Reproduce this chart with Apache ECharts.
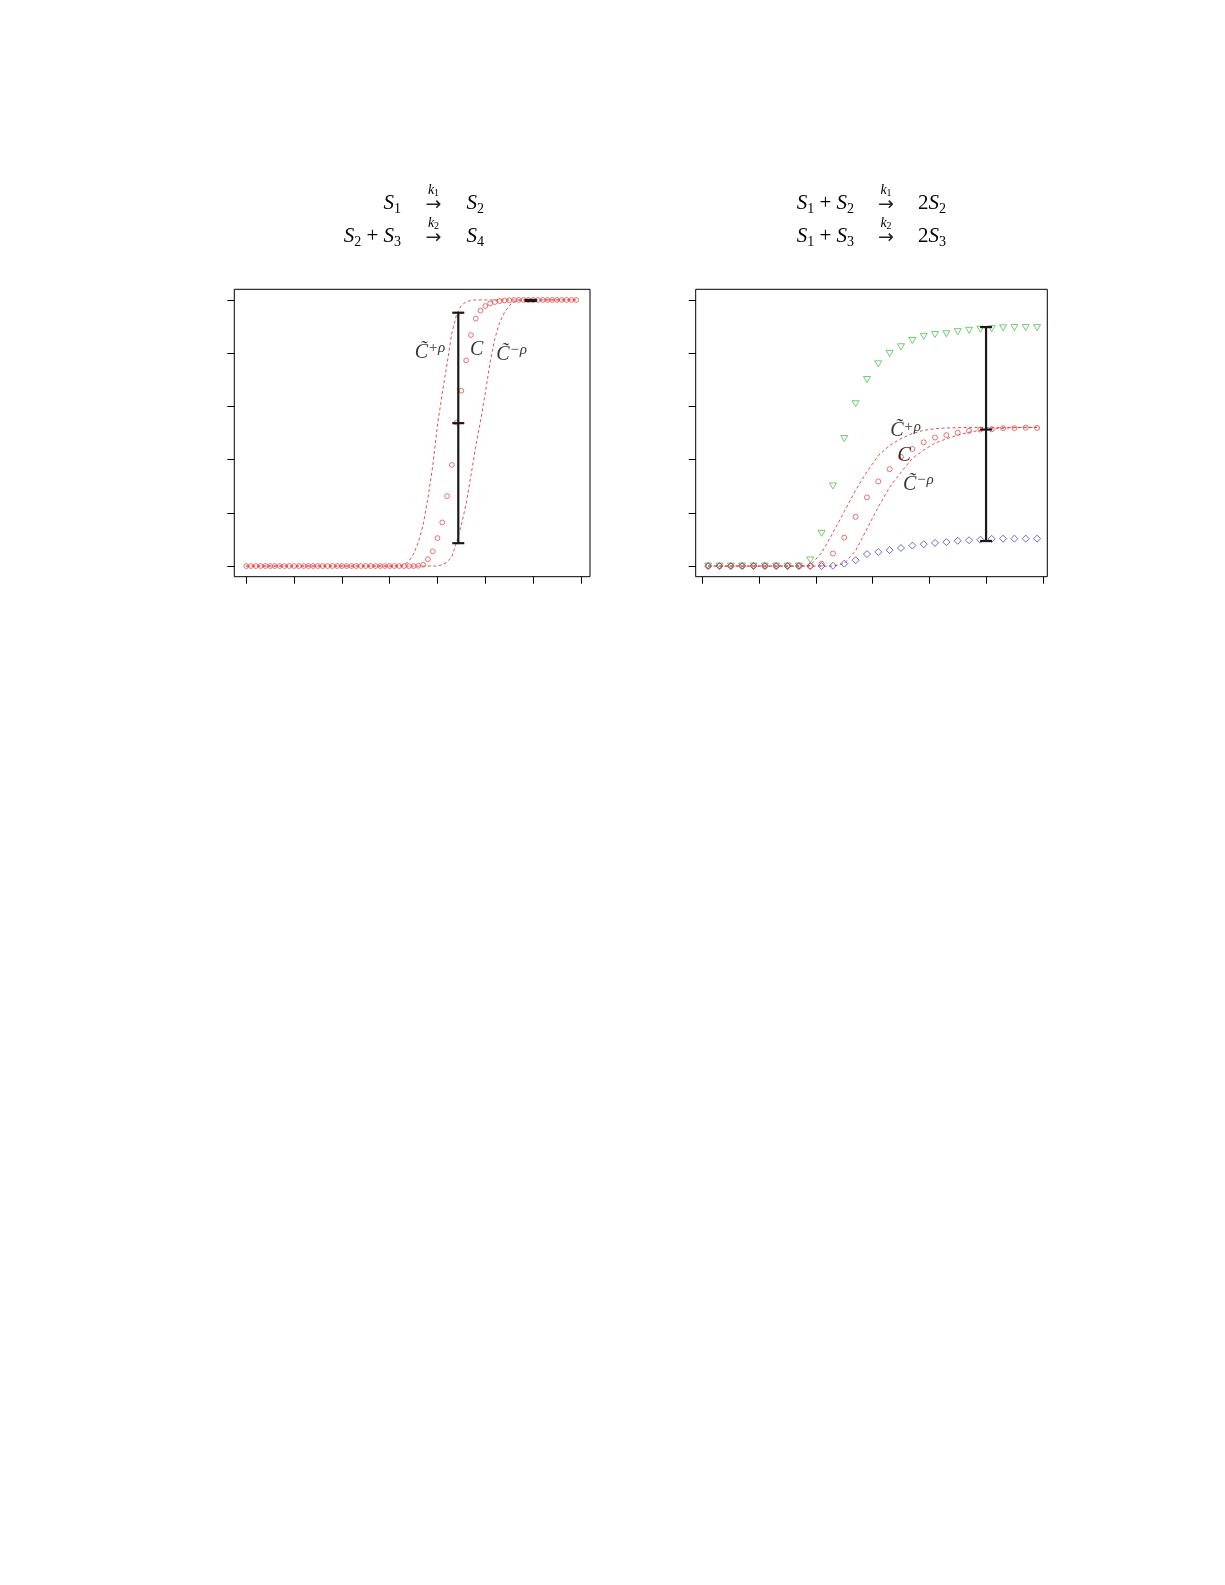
<!DOCTYPE html>
<html>
<head>
<meta charset="utf-8">
<script src="https://cdn.jsdelivr.net/npm/echarts@6.0.0/dist/echarts.min.js"></script>
<style>
html,body{margin:0;padding:0;background:#fff;}
#chart{width:1225px;height:1585px;}
</style>
</head>
<body>
<div id="chart"></div>
<script>
// ---------------- data ----------------
// Left panel: S1 -> S2, S2 + S3 -> S4 (time grid 0..69)
const timeLeft = [0,1,2,3,4,5,6,7,8,9,10,11,12,13,14,15,16,17,18,19,20,21,22,23,24,25,26,27,28,29,30,31,32,33,34,35,36,37,38,39,40,41,42,43,44,45,46,47,48,49,50,51,52,53,54,55,56,57,58,59,60,61,62,63,64,65,66,67,68,69];
const cLeft = [0,0,0,0,0,0,0,0,0,0,0,0,0,0,0,0,0,0,0,0,0,0,0,0,0,0,0,0,0,0,0,0,0,0,0,0,
  0.001,0.005,0.026,0.055,0.105,0.164,0.263,0.380,0.539,0.659,0.773,0.868,0.930,0.960,0.977,0.987,0.992,0.996,0.998,0.999,
  1,1,1,1,1,1,1,1,1,1,1,1,1,1];
const cPlusLeft = [0,0,0,0,0,0,0,0,0,0,0,0,0,0,0,0,0,0,0,0,0,0,0,0,0,0,0,0,0,0,0,0,0,
  0.005,0.018,0.045,0.09,0.155,0.255,0.375,0.53,0.65,0.76,0.875,0.945,0.98,0.993,0.998,
  1,1,1,1,1,1,1,1,1,1,1,1,1,1,1,1,1,1,1,1,1,1];
const cMinusLeft = [0,0,0,0,0,0,0,0,0,0,0,0,0,0,0,0,0,0,0,0,0,0,0,0,0,0,0,0,0,0,0,0,0,0,0,0,0,0,0,0,0,
  0.005,0.015,0.035,0.09,0.155,0.235,0.34,0.45,0.545,0.65,0.765,0.855,0.915,0.952,0.978,0.993,0.999,
  1,1,1,1,1,1,1,1,1,1,1,1];
const errLeftX = [44.35, 59.5];
const errLeftLow = [0.086, 0.996];
const errLeftMid = [0.537, 0.998];
const errLeftHigh = [0.952, 1.0];
const xTicksLeft = [0,10,20,30,40,50,60,70];

// Right panel: S1 + S2 -> 2S2, S1 + S3 -> 2S3 (30 samples)
const timeRight = [0.5,1.5,2.5,3.5,4.5,5.5,6.5,7.5,8.5,9.5,10.5,11.5,12.5,13.5,14.5,15.5,16.5,17.5,18.5,19.5,20.5,21.5,22.5,23.5,24.5,25.5,26.5,27.5,28.5,29.5];
const greenRight = [0,0,0,0,0,0,0,0,0,0.023,0.123,0.301,0.479,0.610,0.701,0.760,0.799,0.824,0.848,0.863,0.870,0.873,0.881,0.886,0.890,0.892,0.895,0.896,0.896,0.896];
const cRight = [0,0,0,0,0,0,0,0,0,0,0.009,0.047,0.107,0.185,0.258,0.318,0.364,0.410,0.440,0.465,0.483,0.492,0.501,0.508,0.513,0.514,0.518,0.518,0.520,0.519];
const blueRight = [0,0,0,0,0,0,0,0,0,0,0,0.001,0.009,0.022,0.045,0.053,0.060,0.068,0.077,0.082,0.087,0.090,0.095,0.097,0.099,0.102,0.103,0.103,0.103,0.103];
const cPlusRight = [0,0,0,0,0,0,0,0,0,0.002,0.05,0.125,0.205,0.285,0.355,0.415,0.453,0.479,0.498,0.51,0.516,0.519,0.52,0.521,0.521,0.521,0.521,0.521,0.521,0.521];
const cMinusRight = [0,0,0,0,0,0,0,0,0,0,0,0,0.01,0.058,0.14,0.222,0.297,0.352,0.405,0.436,0.462,0.478,0.492,0.503,0.51,0.515,0.518,0.52,0.521,0.521];
const errRightX = [25];
const errRightLow = [0.094];
const errRightMid = [0.513];
const errRightHigh = [0.898];
const xTicksRight = [0,5,10,15,20,25,30];

const yTicks = [0,0.2,0.4,0.6,0.8,1.0];

// annotation labels: [x, y, text]
const labelsLeft = [[38.43,0.801,'{c|C\u0303}{sup|+\u03c1}'],[48.2,0.812,'{c|C}'],[55.48,0.793,'{c|C\u0303}{sup|\u2212\u03c1}']];
const labelsRight = [[17.9,0.507,'{c|C\u0303}{sup|+\u03c1}'],[17.78,0.414,'{c|C}'],[19.03,0.305,'{c|C\u0303}{sup|\u2212\u03c1}']];

// ---------------- styles ----------------
const RED = '#e43a3a', GREEN = '#3dba3d', BLUE = '#3434bb';
const MF = '"Liberation Serif","DejaVu Serif",serif';

function zip(xs, ys){ return xs.map((x,i)=>[x, ys[i]]); }
function errData(xs, lo, mid, hi){ return xs.map((x,i)=>[x, lo[i], mid[i], hi[i]]); }

function errRender(params, api){
  const x = api.value(0);
  const pLo = api.coord([x, api.value(1)]);
  const pMid = api.coord([x, api.value(2)]);
  const pHi = api.coord([x, api.value(3)]);
  const w = 6;
  const st = {stroke:'#1a1a1a', lineWidth:2.2};
  return {type:'group', children:[
    {type:'line', shape:{x1:pLo[0],y1:pLo[1],x2:pHi[0],y2:pHi[1]}, style:st},
    {type:'line', shape:{x1:pLo[0]-w,y1:pLo[1],x2:pLo[0]+w,y2:pLo[1]}, style:st},
    {type:'line', shape:{x1:pMid[0]-w,y1:pMid[1],x2:pMid[0]+w,y2:pMid[1]}, style:st},
    {type:'line', shape:{x1:pHi[0]-w,y1:pHi[1],x2:pHi[0]+w,y2:pHi[1]}, style:st}
  ]};
}

const labelRich = {
  c:{fontFamily:MF, fontStyle:'italic', fontSize:20, lineHeight:24, verticalAlign:'middle', color:'#000', textBorderWidth:0},
  sup:{fontFamily:MF, fontStyle:'italic', fontSize:15, lineHeight:16, verticalAlign:'top', color:'#000', textBorderWidth:0}
};

function labelSeries(items, gi){
  return {
    type:'scatter', xAxisIndex:gi, yAxisIndex:gi, symbolSize:0, silent:true, z:20,
    itemStyle:{color:'#000'},
    data: items.map(it=>({value:[it[0], it[1]], label:{formatter:it[2]}})),
    label:{show:true, position:'inside', color:'#000', textBorderWidth:0, textBorderColor:'transparent', rich:labelRich}
  };
}

function makeX(gi, min, max, ticks){
  return {type:'value', gridIndex:gi, min:min, max:max,
    axisLine:{show:false, onZero:false},
    axisLabel:{show:false},
    splitLine:{show:false},
    axisTick:{show:true, length:7, lineStyle:{color:'#000', width:1}, customValues:ticks}};
}
function makeY(gi){
  return {type:'value', gridIndex:gi, min:-0.04, max:1.04,
    axisLine:{show:false, onZero:false},
    axisLabel:{show:false},
    splitLine:{show:false},
    axisTick:{show:true, length:7, lineStyle:{color:'#000', width:1}, customValues:yTicks}};
}

function dashed(xs, ys, gi){
  return {type:'line', xAxisIndex:gi, yAxisIndex:gi, data:zip(xs, ys), showSymbol:false, symbol:'none',
    lineStyle:{color:RED, width:0.9, type:[3,2.5]}, z:2, silent:true};
}
function pts(xs, ys, gi, symbol, size, color, rotate){
  return {type:'scatter', xAxisIndex:gi, yAxisIndex:gi, data:zip(xs, ys), symbol:symbol, symbolSize:size,
    symbolRotate: rotate||0,
    itemStyle:{color:'rgba(255,255,255,0)', borderColor:color, borderWidth:0.9}, z:3, silent:true};
}

// equation text helpers
const eqRich = {
  s:{fontFamily:MF, fontStyle:'italic', fontSize:21, lineHeight:26, verticalAlign:'middle', fill:'#000'},
  n:{fontFamily:MF, fontSize:21, lineHeight:26, verticalAlign:'middle', fill:'#000'},
  sub:{fontFamily:MF, fontSize:14, lineHeight:17, verticalAlign:'bottom', fill:'#000'},
  k:{fontFamily:MF, fontStyle:'italic', fontSize:14, lineHeight:16, verticalAlign:'middle', fill:'#000'},
  ks:{fontFamily:MF, fontSize:10, lineHeight:11, verticalAlign:'bottom', fill:'#000'}
};
function eqText(x, y, text, align){
  return {type:'text', x:x, y:y, silent:true, style:{text:text, rich:eqRich, align:align, verticalAlign:'middle', fill:'#000', fontFamily:MF, fontSize:21}};
}
function arrow(x, y, k){
  return [
    {type:'text', x:x, y:y-12.5, silent:true, style:{text:'{k|k}{ks|'+k+'}', rich:eqRich, align:'center', verticalAlign:'middle'}},
    {type:'text', x:x, y:y+2, silent:true, style:{text:'\u2192', fontFamily:'"DejaVu Sans"', fontSize:19, align:'center', verticalAlign:'middle', fill:'#222'}}
  ];
}
const row1 = 203, row2 = 236;
const graphics = [
  eqText(401, row1, '{s|S}{sub|1}', 'right'),
  ...arrow(433.5, row1, '1'),
  eqText(466.5, row1, '{s|S}{sub|2}', 'left'),
  eqText(401, row2, '{s|S}{sub|2}{n| + }{s|S}{sub|3}', 'right'),
  ...arrow(433.5, row2, '2'),
  eqText(466.5, row2, '{s|S}{sub|4}', 'left'),
  eqText(854, row1, '{s|S}{sub|1}{n| + }{s|S}{sub|2}', 'right'),
  ...arrow(886, row1, '1'),
  eqText(918, row1, '{n|2}{s|S}{sub|2}', 'left'),
  eqText(854, row2, '{s|S}{sub|1}{n| + }{s|S}{sub|3}', 'right'),
  ...arrow(886, row2, '2'),
  eqText(918, row2, '{n|2}{s|S}{sub|3}', 'left')
];

const chart = echarts.init(document.getElementById('chart'), null, {renderer:'canvas'});
chart.setOption({
  backgroundColor:'#fff',
  animation:false,
  grid:[
    {left:234.3, top:289.3, width:355.7, height:287.4, show:true, borderColor:'#000', borderWidth:1, backgroundColor:'transparent'},
    {left:695.7, top:289.3, width:351.6, height:287.4, show:true, borderColor:'#000', borderWidth:1, backgroundColor:'transparent'}
  ],
  xAxis:[ makeX(0, -2.5, 71.9, xTicksLeft), makeX(1, -0.6, 30.4, xTicksRight) ],
  yAxis:[ makeY(0), makeY(1) ],
  graphic: graphics,
  series:[
    dashed(timeLeft, cPlusLeft, 0),
    dashed(timeLeft, cMinusLeft, 0),
    pts(timeLeft, cLeft, 0, 'circle', 4.8, RED),
    {type:'custom', xAxisIndex:0, yAxisIndex:0, renderItem:errRender, data:errData(errLeftX, errLeftLow, errLeftMid, errLeftHigh), encode:{x:0, y:[1,2,3]}, z:10, silent:true},
    labelSeries(labelsLeft, 0),

    dashed(timeRight, cPlusRight, 1),
    dashed(timeRight, cMinusRight, 1),
    pts(timeRight, greenRight, 1, 'triangle', [7,6], GREEN, 180),
    pts(timeRight, blueRight, 1, 'diamond', [7,7], BLUE),
    pts(timeRight, cRight, 1, 'circle', 5, RED),
    {type:'custom', xAxisIndex:1, yAxisIndex:1, renderItem:errRender, data:errData(errRightX, errRightLow, errRightMid, errRightHigh), encode:{x:0, y:[1,2,3]}, z:10, silent:true},
    labelSeries(labelsRight, 1)
  ]
});
</script>
</body>
</html>
